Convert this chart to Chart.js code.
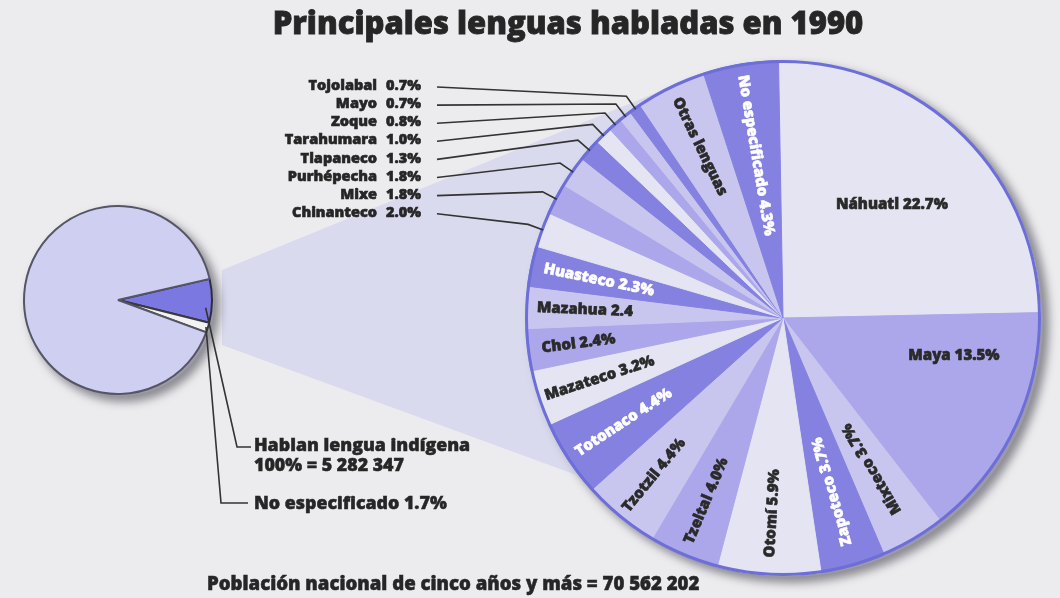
<!DOCTYPE html>
<html><head><meta charset="utf-8">
<script src="https://cdn.jsdelivr.net/npm/chart.js@4"></script>
<style>
html,body{margin:0;padding:0;background:#ececef;}
#wrap{position:relative;width:1060px;height:598px;overflow:hidden;font-family:"Open Sans",sans-serif;background:#ececef;}
canvas{position:absolute;}
.sh{position:absolute;border-radius:50%;background:#9a9aa8;box-shadow:3px 3px 9px 3px rgba(60,60,70,0.55);}
.t{position:absolute;font-weight:800;color:#262626;white-space:nowrap;line-height:1;-webkit-text-stroke:0.5px #262626;}
</style></head><body>
<div id="wrap">
<div class="sh" style="left:531px;top:65px;width:512px;height:512px;"></div>
<canvas id="big" width="1060" height="598" style="left:0;top:0;width:1060px;height:598px"></canvas>
<div class="sh" style="left:28px;top:210px;width:186px;height:186px;"></div>
<canvas id="small" width="300" height="330" style="left:13px;top:195px;width:300px;height:330px"></canvas>
<div class="t" style="left:0;width:1136px;text-align:center;top:7px;font-size:31px;-webkit-text-stroke:0.8px #262626;">Principales lenguas habladas en 1990</div>
<div class="t" style="left:254px;top:436px;font-size:17.8px;">Hablan lengua indígena</div>
<div class="t" style="left:254px;top:456px;font-size:17.8px;">100% = 5 282 347</div>
<div class="t" style="left:254px;top:494px;font-size:17.8px;">No especificado 1.7%</div>
<div class="t" style="left:207px;top:574px;font-size:18.6px;">Población nacional de cinco años y más = 70 562 202</div>
</div>
<script>
// ---- data ----
const languages = ['Náhuatl','Maya','Mixteco','Zapoteco','Otomí','Tzeltal','Tzotzil','Totonaco','Mazateco','Chol','Mazahua','Huasteco','Chinanteco','Mixe','Purhépecha','Tlapaneco','Tarahumara','Zoque','Mayo','Tojolabal','Otras lenguas','No especificado'];
const percents  = [22.7, 13.5, 3.7, 3.7, 5.9, 4.0, 4.4, 4.4, 3.2, 2.4, 2.4, 2.3, 2.0, 1.8, 1.8, 1.3, 1.0, 0.8, 0.7, 0.7, 4.0, 4.3];
const sliceTexts = ['Náhuatl 22.7%','Maya 13.5%','Mixteco 3.7%','Zapoteco 3.7%','Otomí 5.9%','Tzeltal 4.0%','Tzotzil 4.4%','Totonaco 4.4%','Mazateco 3.2%','Chol 2.4%','Mazahua 2.4','Huasteco 2.3%','','','','','','','','','Otras lenguas','No especificado 4.3%'];
const leaderNames = ['Tojolabal','Mayo','Zoque','Tarahumara','Tlapaneco','Purhépecha','Mixe','Chinanteco'];
const leaderPcts  = ['0.7%','0.7%','0.8%','1.0%','1.3%','1.8%','1.8%','2.0%'];
const totalLabels = ['Hablan lengua indígena','No especificado','Resto de la población'];
const totalValues = [7.5, 1.7, 90.8];

// ---- styles ----
const VL='#e4e4f3', MD='#aba7ea', LT='#c8c6ef', BL='#8581e1';
const sliceColors = [VL,MD,LT,BL,VL,MD,LT,BL,VL,MD,LT,BL,VL,MD,LT,BL,VL,MD,LT,BL,LT,BL];
const labelStyle = {
  'Náhuatl':{f:0.61,rot:false,c:'#2a2a2a'}, 'Maya':{f:0.68,rot:false,c:'#2a2a2a',da:-13},
  'Mixteco':{f:0.68,rot:true,c:'#2a2a2a'}, 'Zapoteco':{f:0.70,rot:true,c:'#ffffff'},
  'Otomí':{f:0.76,rot:true,c:'#2a2a2a'}, 'Tzeltal':{f:0.77,rot:true,c:'#2a2a2a'},
  'Tzotzil':{f:0.79,rot:true,c:'#2a2a2a'}, 'Totonaco':{f:0.74,rot:true,c:'#ffffff'},
  'Mazateco':{f:0.75,rot:true,c:'#2a2a2a'}, 'Chol':{f:0.80,rot:true,c:'#2a2a2a'},
  'Mazahua':{f:0.77,rot:true,c:'#2a2a2a'}, 'Huasteco':{f:0.73,rot:true,c:'#ffffff'},
  'Otras lenguas':{f:0.74,rot:true,c:'#2a2a2a'}, 'No especificado':{f:0.64,rot:true,c:'#ffffff'}
};
const FONT = '"Open Sans", sans-serif';

function boldText(ctx,txt,x,y,color){
  ctx.fillStyle=color; ctx.strokeStyle=color; ctx.lineWidth=0.6;
  ctx.fillText(txt,x,y); ctx.strokeText(txt,x,y);
}

const bigPlugin = {
  id:'bigDeco',
  beforeDatasetsDraw(chart){
    const ctx = chart.ctx;
    const a = chart.getDatasetMeta(0).data[0];
    const cx=a.x, cy=a.y, R=a.outerRadius;
    ctx.save();
    ctx.fillStyle='rgba(192,192,236,0.42)';
    ctx.beginPath();
    ctx.moveTo(222,270); ctx.lineTo(cx+R*Math.cos(-2.05), cy+R*Math.sin(-2.05));
    ctx.lineTo(cx+R*Math.cos(2.48), cy+R*Math.sin(2.48)); ctx.lineTo(222,345); ctx.closePath(); ctx.fill();
    ctx.restore();
  },
  afterDatasetsDraw(chart){
    const ctx = chart.ctx;
    const arcs = chart.getDatasetMeta(0).data;
    const cx=arcs[0].x, cy=arcs[0].y, R=arcs[0].outerRadius;
    ctx.save();
    ctx.strokeStyle='#6e6ed9'; ctx.lineWidth=3;
    ctx.beginPath(); ctx.arc(cx,cy,R-1,0,Math.PI*2); ctx.stroke();
    ctx.font='800 15px '+FONT; ctx.textAlign='center'; ctx.textBaseline='middle';
    arcs.forEach((arc,i)=>{
      const st = labelStyle[languages[i]]; if(!st || !sliceTexts[i]) return;
      const mid=(arc.startAngle+arc.endAngle)/2 + (st.da||0)*Math.PI/180;
      const x=cx+st.f*R*Math.cos(mid), y=cy+st.f*R*Math.sin(mid);
      ctx.save(); ctx.translate(x,y); if(st.rot) ctx.rotate(mid+Math.PI);
      boldText(ctx,sliceTexts[i],0,0,st.c); ctx.restore();
    });
    ctx.font='800 14.5px '+FONT; ctx.textBaseline='middle';
    leaderNames.forEach((nm,k)=>{
      const y=86+k*18.1;
      ctx.textAlign='right'; boldText(ctx,nm,377,y,'#262626');
      ctx.textAlign='left'; boldText(ctx,leaderPcts[k],386,y,'#262626');
      const idx=languages.indexOf(nm); const arc=arcs[idx];
      const mid=(arc.startAngle+arc.endAngle)/2;
      const ex=cx+(R+14)*Math.cos(mid), ey=cy+(R+14)*Math.sin(mid);
      const rx=cx+(R-2)*Math.cos(mid), ry=cy+(R-2)*Math.sin(mid);
      ctx.strokeStyle='#333'; ctx.lineWidth=1.6;
      ctx.beginPath(); ctx.moveTo(437,y+1); ctx.lineTo(ex,ey); ctx.lineTo(rx,ry); ctx.stroke();
    });
    ctx.restore();
  }
};

new Chart(document.getElementById('big'),{
  type:'pie',
  data:{labels:languages,datasets:[{data:percents,backgroundColor:sliceColors,borderColor:sliceColors,borderWidth:1}]},
  options:{responsive:false,animation:false,rotation:-1,
    layout:{padding:{left:525,top:60,right:19,bottom:22}},
    plugins:{legend:{display:false},tooltip:{enabled:false}}},
  plugins:[bigPlugin]
});

const smallPlugin = {
  id:'smallDeco',
  afterDatasetsDraw(chart){
    const ctx=chart.ctx; const arcs=chart.getDatasetMeta(0).data;
    const cx=arcs[0].x, cy=arcs[0].y, R=arcs[0].outerRadius;
    const ox=13, oy=195;
    ctx.save(); ctx.strokeStyle='#333'; ctx.lineWidth=1.6;
    const m0=(arcs[0].startAngle+arcs[0].endAngle)/2, m1=(arcs[1].startAngle+arcs[1].endAngle)/2;
    ctx.beginPath(); ctx.moveTo(cx+(R-6)*Math.cos(m0+0.08), cy+(R-6)*Math.sin(m0+0.08));
    ctx.lineTo(237-ox,447-oy); ctx.lineTo(251-ox,447-oy); ctx.stroke();
    ctx.beginPath(); ctx.moveTo(cx+(R-2)*Math.cos(m1), cy+(R-2)*Math.sin(m1));
    ctx.lineTo(221-ox,503-oy); ctx.lineTo(248-ox,503-oy); ctx.stroke();
    ctx.restore();
  }
};

new Chart(document.getElementById('small'),{
  type:'pie',
  data:{labels:totalLabels,datasets:[{data:totalValues,backgroundColor:['#7b78e2','#f2f2f2','#cfcff1'],borderColor:['#2e2e3a','#3a3a3a','#555566'],borderWidth:2}]},
  options:{responsive:false,animation:false,rotation:77,
    layout:{padding:{left:10,top:10,right:100,bottom:130}},
    plugins:{legend:{display:false},tooltip:{enabled:false}}},
  plugins:[smallPlugin]
});
</script>
</body></html>
